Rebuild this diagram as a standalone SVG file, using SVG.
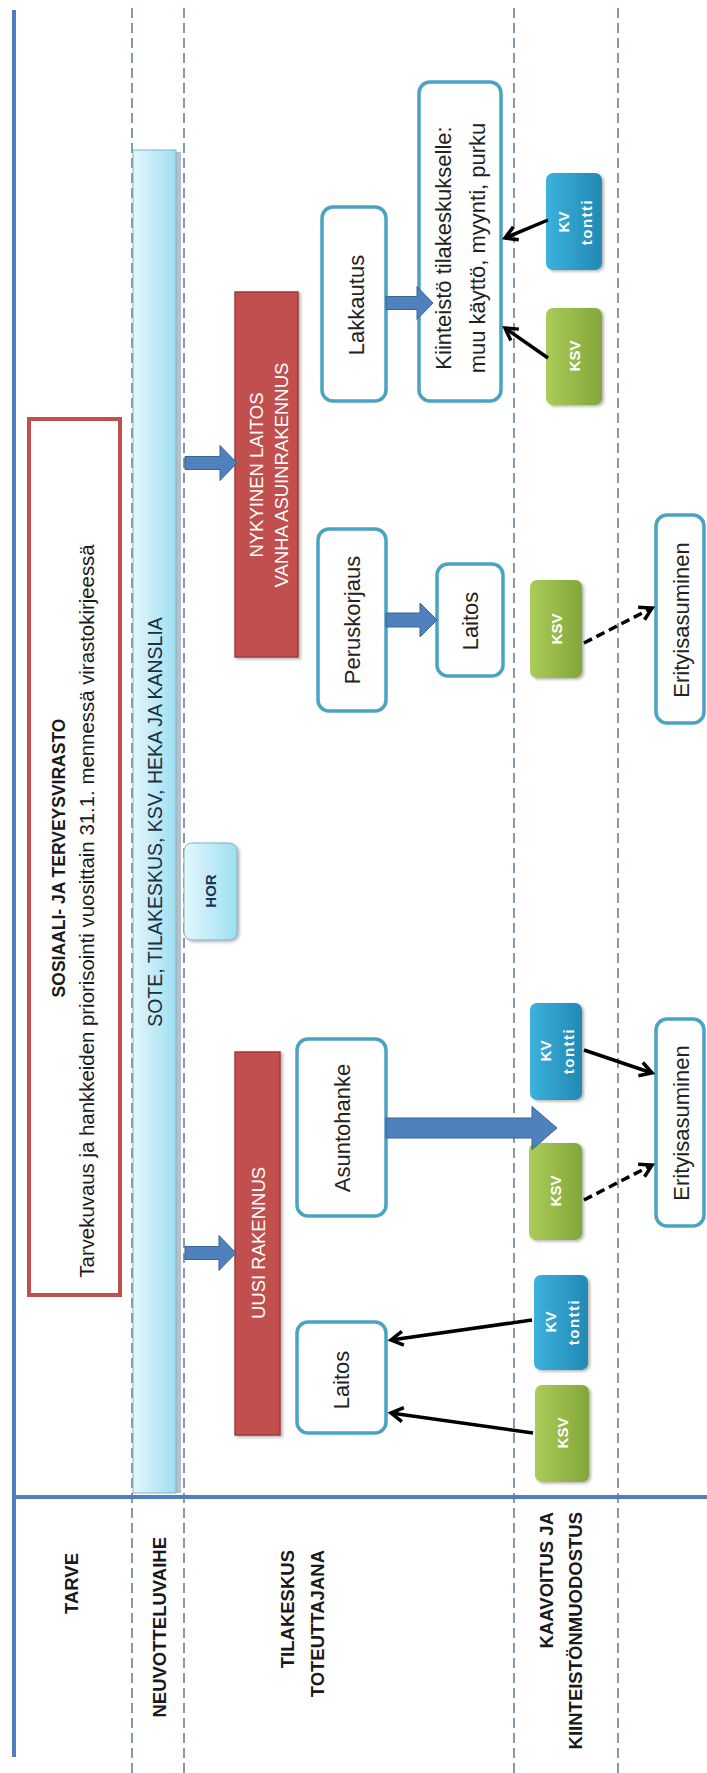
<svg xmlns="http://www.w3.org/2000/svg" width="707" height="1773" viewBox="0 0 707 1773">
<defs>
<style>
text{font-family:"Liberation Sans",Arial,sans-serif;dominant-baseline:central;text-anchor:middle}
.lbl{font-weight:bold;font-size:18.5px;fill:#1a1a1a;text-anchor:end}
.wb{fill:#fff;stroke:#4aa3c2;stroke-width:3.5}
.wt{font-size:22px;fill:#222}
.red{fill:#c0504d;stroke:#9e3d3a;stroke-width:1.5}
.rt{fill:#fff;font-size:18.5px}
.ksv{fill:url(#gGreen)}
.kv{fill:url(#gBlue)}
.ct{fill:#fff;font-weight:bold;font-size:15px}
.barrow{fill:#4f81bd;stroke:#3b6594;stroke-width:1}
.conn{stroke:#000;stroke-width:3.5;fill:none;marker-end:url(#ah)}
.dash{stroke-dasharray:9 5}
.guide{stroke:#5d7895;stroke-width:1.5;stroke-dasharray:10 5;fill:none}
.axis{stroke:#4f7fbf;stroke-width:4;fill:none}
.lightbox{fill:url(#gCyan);stroke:#7fb2c6;stroke-width:1}
</style>
<linearGradient id="gCyan" x1="0" y1="0" x2="1" y2="0">
<stop offset="0" stop-color="#e4f7fc"/>
<stop offset="1" stop-color="#9edff2"/>
</linearGradient>
<linearGradient id="gGreen" x1="0" y1="0" x2="1" y2="0">
<stop offset="0" stop-color="#abcc58"/>
<stop offset="1" stop-color="#83a63b"/>
</linearGradient>
<linearGradient id="gBlue" x1="0" y1="0" x2="1" y2="0">
<stop offset="0" stop-color="#3cb2dc"/>
<stop offset="1" stop-color="#2189b4"/>
</linearGradient>
<filter id="sh" x="-20%" y="-20%" width="150%" height="150%">
<feDropShadow dx="2" dy="1.5" stdDeviation="1.5" flood-color="#000" flood-opacity="0.3"/>
</filter>
<marker id="ah" markerUnits="userSpaceOnUse" markerWidth="20" markerHeight="20" viewBox="0 0 20 20" refX="17" refY="10" orient="auto" overflow="visible">
<path d="M5,3 L17,10 L5,17" fill="none" stroke="#000" stroke-width="3.5"/>
</marker>
</defs>
<rect width="707" height="1773" fill="#fff"/>

<g id="lanes">
<line class="guide" x1="132" y1="8" x2="132" y2="1773"/>
<line class="guide" x1="184" y1="8" x2="184" y2="1773"/>
<line class="guide" x1="514" y1="8" x2="514" y2="1773"/>
<line class="guide" x1="618" y1="8" x2="618" y2="1773"/>
</g>

<g id="neuvottelu-bar">
<rect x="176" y="152" width="5" height="1341" fill="#b5c0c8"/>
<rect class="lightbox" x="133" y="150" width="43" height="1343"/>
<text transform="translate(155,822) rotate(-90)" font-size="19.5" fill="#1f2f3f">SOTE, TILAKESKUS, KSV, HEKA JA KANSLIA</text>
</g>

<g id="lane-axes">
<line class="axis" x1="14" y1="10" x2="14" y2="1757"/>
<line class="axis" x1="12" y1="1497" x2="707" y2="1497"/>
</g>

<g id="tarve">
<rect x="29" y="419" width="91" height="876" fill="#fff" stroke="#c0504d" stroke-width="4"/>
<text transform="translate(59,858) rotate(-90)" font-size="17.5" font-weight="bold" fill="#1a1a1a">SOSIAALI- JA TERVEYSVIRASTO</text>
<text transform="translate(87,911) rotate(-90)" font-size="20.4" fill="#1a1a1a">Tarvekuvaus ja hankkeiden priorisointi vuosittain 31.1. mennessä virastokirjeessä</text>
</g>

<g id="hor">
<rect class="lightbox" x="184" y="843" width="53" height="97" rx="8" filter="url(#sh)"/>
<text transform="translate(210,891) rotate(-90)" font-size="15" font-weight="bold" fill="#1f3550">HOR</text>
</g>

<g id="nykyinen">
<rect class="red" x="235" y="292" width="63" height="365" filter="url(#sh)"/>
<text class="rt" transform="translate(256,475) rotate(-90)">NYKYINEN LAITOS</text>
<text class="rt" transform="translate(281,475) rotate(-90)">VANHA  ASUINRAKENNUS</text>
</g>

<g id="uusi">
<rect class="red" x="235" y="1052" width="45" height="383" filter="url(#sh)"/>
<text class="rt" transform="translate(258,1243) rotate(-90)" font-size="19">UUSI RAKENNUS</text>
</g>

<g id="lakkautus">
<rect class="wb" x="322" y="207" width="64" height="194" rx="11"/>
<text class="wt" transform="translate(356,305) rotate(-90)">Lakkautus</text>
</g>

<g id="kiinteisto">
<rect class="wb" x="419" y="82" width="82" height="319" rx="11"/>
<text class="wt" transform="translate(443,248) rotate(-90)" font-size="23">Kiinteistö tilakeskukselle:</text>
<text class="wt" transform="translate(477,248) rotate(-90)" font-size="23">muu käyttö, myynti, purku</text>
</g>

<g id="peruskorjaus">
<rect class="wb" x="318" y="529" width="68" height="182" rx="11"/>
<text class="wt" transform="translate(352,620) rotate(-90)">Peruskorjaus</text>
</g>

<g id="laitos-vanha">
<rect class="wb" x="437" y="564" width="66" height="112" rx="11"/>
<text class="wt" transform="translate(470,621) rotate(-90)">Laitos</text>
</g>

<g id="erityisasuminen-1">
<rect class="wb" x="656" y="515" width="48" height="208" rx="11"/>
<text class="wt" transform="translate(681,620) rotate(-90)">Erityisasuminen</text>
</g>

<g id="asuntohanke">
<rect class="wb" x="297" y="1039" width="89" height="177" rx="11"/>
<text class="wt" transform="translate(342,1128) rotate(-90)">Asuntohanke</text>
</g>

<g id="erityisasuminen-2">
<rect class="wb" x="656" y="1019" width="48" height="207" rx="11"/>
<text class="wt" transform="translate(681,1123) rotate(-90)">Erityisasuminen</text>
</g>

<g id="laitos-uusi">
<rect class="wb" x="297" y="1322" width="89" height="111" rx="11"/>
<text class="wt" transform="translate(341,1380) rotate(-90)">Laitos</text>
</g>

<g id="kv-1">
<rect class="kv" x="546" y="173" width="56" height="97" rx="7" filter="url(#sh)"/>
<text class="ct" transform="translate(563,222) rotate(-90)">KV</text>
<text class="ct" transform="translate(586,222) rotate(-90)" letter-spacing="1.5">tontti</text>
</g>
<g id="ksv-1">
<rect class="ksv" x="546" y="308" width="56" height="97" rx="7" filter="url(#sh)"/>
<text class="ct" transform="translate(574,356) rotate(-90)">KSV</text>
</g>
<g id="ksv-2">
<rect class="ksv" x="530" y="580" width="52" height="98" rx="7" filter="url(#sh)"/>
<text class="ct" transform="translate(556,629) rotate(-90)">KSV</text>
</g>
<g id="kv-3">
<rect class="kv" x="530" y="1003" width="52" height="97" rx="7" filter="url(#sh)"/>
<text class="ct" transform="translate(545,1051) rotate(-90)">KV</text>
<text class="ct" transform="translate(568,1051) rotate(-90)" letter-spacing="1.5">tontti</text>
</g>
<g id="ksv-3">
<rect class="ksv" x="529" y="1143" width="53" height="97" rx="7" filter="url(#sh)"/>
<text class="ct" transform="translate(555,1191) rotate(-90)">KSV</text>
</g>
<g id="kv-4">
<rect class="kv" x="534" y="1275" width="54" height="95" rx="7" filter="url(#sh)"/>
<text class="ct" transform="translate(550,1322) rotate(-90)">KV</text>
<text class="ct" transform="translate(573,1322) rotate(-90)" letter-spacing="1.5">tontti</text>
</g>
<g id="ksv-4">
<rect class="ksv" x="535" y="1385" width="54" height="97" rx="7" filter="url(#sh)"/>
<text class="ct" transform="translate(562,1433) rotate(-90)">KSV</text>
</g>

<g id="connectors">
<polygon class="barrow" points="185,456.5 220,456.5 220,445.5 237,463 220,480.5 220,469.5 185,469.5"/>
<polygon class="barrow" points="185,1246.5 219,1246.5 219,1235.5 236,1253 219,1270.5 219,1259.5 185,1259.5"/>
<polygon class="barrow" points="386,613 420,613 420,603 437,620 420,637 420,627 386,627"/>
<polygon class="barrow" points="386,296.5 417,296.5 417,286.5 433,303 417,319.5 417,309.5 386,309.5"/>
<polygon class="barrow" points="386,1118 532,1118 532,1106.5 557,1128 532,1149.5 532,1138 386,1138"/>
<path class="conn" d="M548,220 L505,238"/>
<path class="conn" d="M548,358 L505,328"/>
<path class="conn dash" d="M584,643 L652,608"/>
<path class="conn" d="M584,1050 L652,1073"/>
<path class="conn dash" d="M584,1200 L652,1165"/>
<path class="conn" d="M532,1320 L391,1340"/>
<path class="conn" d="M533,1433 L391,1413"/>
</g>

<g id="row-tarve">
<text class="lbl" transform="translate(71,1553) rotate(-90)">TARVE</text>
</g>
<g id="row-neuvotteluvaihe">
<text class="lbl" transform="translate(159,1537) rotate(-90)">NEUVOTTELUVAIHE</text>
</g>
<g id="row-tilakeskus">
<text class="lbl" transform="translate(287,1550) rotate(-90)">TILAKESKUS</text>
<text class="lbl" transform="translate(317,1550) rotate(-90)">TOTEUTTAJANA</text>
</g>
<g id="row-kaavoitus">
<text class="lbl" transform="translate(546,1512) rotate(-90)">KAAVOITUS  JA</text>
<text class="lbl" transform="translate(575,1512) rotate(-90)">KIINTEISTÖNMUODOSTUS</text>
</g>
</svg>
